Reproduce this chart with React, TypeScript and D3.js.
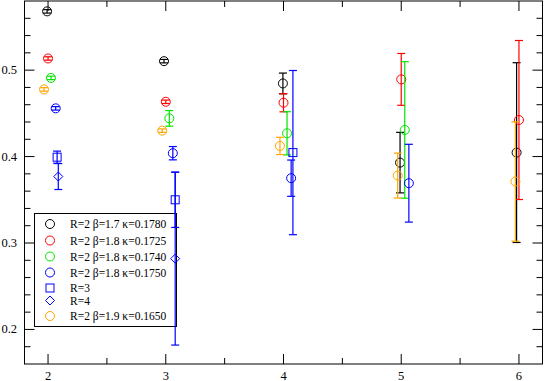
import { useEffect, useRef } from "react";
import * as d3 from "d3";

// values
const xTicks = [2, 3, 4, 5, 6];
const yTicks = [0.2, 0.3, 0.4, 0.5];

const blackX = [1.992, 2.985, 3.995, 4.99, 5.98];
const blackY = [0.568, 0.5104, 0.4846, 0.393, 0.4046];
const blackE = [0.002, 0.002, 0.012, 0.035, 0.104];

const redX = [2.0, 3.0, 4.0, 5.0, 6.0];
const redY = [0.5135, 0.4634, 0.4623, 0.4893, 0.4423];
const redE = [0.002, 0.002, 0.0105, 0.03, 0.092];

const greenX = [2.025, 3.03, 4.03, 5.03];
const greenY = [0.491, 0.4442, 0.4269, 0.4308];
const greenE = [0.002, 0.009, 0.025, 0.079];

const blueX = [2.065, 3.06, 4.065, 5.065];
const blueY = [0.4558, 0.4039, 0.375, 0.3692];
const blueE = [0.002, 0.0077, 0.021, 0.045];

const r3X = [2.077, 3.08, 4.08];
const r3Y = [0.3993, 0.35, 0.4046];
const r3E = [0.007, 0.032, 0.095];

const r4X = [2.087, 3.08];
const r4Y = [0.3769, 0.2819];
const r4E = [0.015, 0.1];

const orangeX = [1.966, 2.97, 3.97, 4.97, 5.97];
const orangeY = [0.4777, 0.43, 0.4123, 0.378, 0.3711];
const orangeE = [0.002, 0.002, 0.01, 0.026, 0.069];

const series = [
  { label: "R=2 β=1.7 κ=0.1780", color: "#000000", shape: "circle", xs: blackX, ys: blackY, es: blackE },
  { label: "R=2 β=1.8 κ=0.1725", color: "#ff0000", shape: "circle", xs: redX, ys: redY, es: redE },
  { label: "R=2 β=1.8 κ=0.1740", color: "#00e600", shape: "circle", xs: greenX, ys: greenY, es: greenE },
  { label: "R=2 β=1.8 κ=0.1750", color: "#0000ff", shape: "circle", xs: blueX, ys: blueY, es: blueE },
  { label: "R=3", color: "#0000ff", shape: "square", xs: r3X, ys: r3Y, es: r3E },
  { label: "R=4", color: "#0000ff", shape: "diamond", xs: r4X, ys: r4Y, es: r4E },
  { label: "R=2 β=1.9 κ=0.1650", color: "#ffa500", shape: "circle", xs: orangeX, ys: orangeY, es: orangeE },
];

const W = 545;
const H = 381;
const font = "'Times New Roman', 'Liberation Serif', serif";

function drawSymbol(g: any, shape: string, cx: number, cy: number, color: string) {
  if (shape === "circle") {
    g.append("circle").attr("cx", cx).attr("cy", cy).attr("r", 4.5)
      .attr("fill", "none").attr("stroke", color).attr("stroke-width", 1);
  } else if (shape === "square") {
    g.append("rect").attr("x", cx - 4).attr("y", cy - 4).attr("width", 8).attr("height", 8)
      .attr("fill", "none").attr("stroke", color).attr("stroke-width", 1);
  } else {
    g.append("path")
      .attr("d", `M${cx},${cy - 4.5}L${cx + 4.5},${cy}L${cx},${cy + 4.5}L${cx - 4.5},${cy}Z`)
      .attr("fill", "none").attr("stroke", color).attr("stroke-width", 1);
  }
}

const App = () => {
  const svgRef = useRef<SVGSVGElement>(null);

  useEffect(() => {
    const svg = d3.select(svgRef.current);
    svg.selectAll("*").remove();

    const left = 24.5, right = 542.5, top = 1, bottom = 364;
    const x = d3.scaleLinear().domain([1.8, 6.2]).range([left, right]);
    const y = d3.scaleLinear().domain([0.16, 0.58]).range([bottom, top]);

    const axis = svg.append("g").attr("stroke", "#000").attr("stroke-width", 1);

    // minor / major ticks, inward on all four sides
    const xMinor = d3.range(2.5, 6.2, 1);
    const yMinor = d3.range(0.18, 0.58, 0.02).filter((v) => !yTicks.some((t) => Math.abs(t - v) < 1e-6));
    xTicks.forEach((t) => {
      axis.append("line").attr("x1", x(t)).attr("x2", x(t)).attr("y1", bottom).attr("y2", bottom - 10);
      axis.append("line").attr("x1", x(t)).attr("x2", x(t)).attr("y1", top).attr("y2", top + 10);
    });
    xMinor.forEach((t) => {
      axis.append("line").attr("x1", x(t)).attr("x2", x(t)).attr("y1", bottom).attr("y2", bottom - 6);
      axis.append("line").attr("x1", x(t)).attr("x2", x(t)).attr("y1", top).attr("y2", top + 6);
    });
    yTicks.forEach((t) => {
      axis.append("line").attr("x1", left).attr("x2", left + 10).attr("y1", y(t)).attr("y2", y(t));
      axis.append("line").attr("x1", right).attr("x2", right - 10).attr("y1", y(t)).attr("y2", y(t));
    });
    yMinor.forEach((t) => {
      axis.append("line").attr("x1", left).attr("x2", left + 6).attr("y1", y(t)).attr("y2", y(t));
      axis.append("line").attr("x1", right).attr("x2", right - 6).attr("y1", y(t)).attr("y2", y(t));
    });

    axis.append("rect").attr("x", left).attr("y", top).attr("width", right - left)
      .attr("height", bottom - top).attr("fill", "none");

    const labels = svg.append("g").style("font-family", font).style("font-size", "12.5px").attr("fill", "#000");
    xTicks.forEach((t) => {
      labels.append("text").attr("x", x(t)).attr("y", 379.5).attr("text-anchor", "middle").text(d3.format("d")(t));
    });
    yTicks.forEach((t) => {
      labels.append("text").attr("x", 17).attr("y", y(t) + 4).attr("text-anchor", "end").text(d3.format(".1f")(t));
    });

    // legend (drawn under the data, as in the reference)
    const lg = svg.append("g");
    lg.append("rect").attr("x", 34.5).attr("y", 213.5).attr("width", 142).attr("height", 113)
      .attr("fill", "#fff").attr("stroke", "#000").attr("stroke-width", 1);
    const rowY = [224, 240.5, 256.5, 272.5, 288, 300.5, 316];
    series.forEach((s, i) => {
      drawSymbol(lg, s.shape, 50, rowY[i], s.color);
      lg.append("text").attr("x", 70).attr("y", rowY[i] + 4)
        .style("font-family", font).style("font-size", "11.5px").attr("fill", "#000").text(s.label);
    });

    // error bars then markers
    const marks = svg.append("g");
    series.forEach((s) => {
      s.xs.forEach((xv, i) => {
        const cx = x(xv);
        const yt = y(s.ys[i] + s.es[i]);
        const yb = y(s.ys[i] - s.es[i]);
        const eg = marks.append("g").attr("stroke", s.color).attr("stroke-width", 1.2);
        eg.append("line").attr("x1", cx).attr("x2", cx).attr("y1", yt).attr("y2", yb);
        eg.append("line").attr("x1", cx - 4).attr("x2", cx + 4).attr("y1", yt).attr("y2", yt);
        eg.append("line").attr("x1", cx - 4).attr("x2", cx + 4).attr("y1", yb).attr("y2", yb);
        drawSymbol(marks, s.shape, cx, y(s.ys[i]), s.color);
      });
    });
  }, []);

  return (
    <svg ref={svgRef} width={W} height={H}
      style={{ position: "absolute", left: 0, top: 0, background: "#fff" }} />
  );
};

export default App;
